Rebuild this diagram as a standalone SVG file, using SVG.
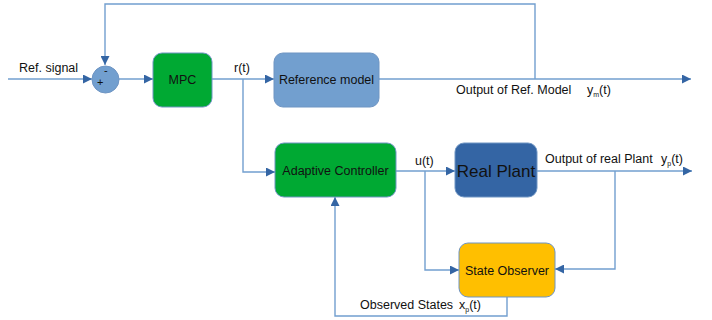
<svg xmlns="http://www.w3.org/2000/svg" width="712" height="320" viewBox="0 0 712 320">
<defs>
<marker id="ah" viewBox="0 0 10 10" refX="10" refY="5" markerWidth="12" markerHeight="9" markerUnits="userSpaceOnUse" orient="auto">
<path d="M0,0 L10,5 L0,10 Z" fill="#3465a4"/>
</marker>
<style>
.ln{fill:none;stroke:#729fcf;stroke-width:1.4;}
.ar{marker-end:url(#ah);}
text{font-family:"Liberation Sans",Arial,sans-serif;font-size:12.5px;fill:#111;}
.sub{font-size:7px;}
.big{font-size:17px;}
.sm{font-size:11px;}
.bx{stroke:#6f95c3;stroke-width:1;}
</style>
</defs>
<g id="connectors">
<path class="ln ar" d="M8,79 H92"/>
<path class="ln ar" d="M535,79 V4 H105 V65"/>
<path class="ln ar" d="M119,79 H153"/>
<path class="ln ar" d="M212,79 H274"/>
<path class="ln ar" d="M243,79 V172 H275"/>
<path class="ln ar" d="M379,79 H691"/>
<path class="ln ar" d="M396,171 H455"/>
<path class="ln ar" d="M425,171 V270 H459"/>
<path class="ln ar" d="M537,171 H692"/>
<path class="ln ar" d="M615,171 V269 H555"/>
<path class="ln ar" d="M507,297 V316 H335 V197"/>
<text x="19" y="72">Ref. signal</text>
<text x="234" y="72">r(t)</text>
<text x="456" y="94">Output of Ref. Model</text>
<text x="587" y="94">y<tspan class="sub" dy="3">m</tspan><tspan dy="-3">(t)</tspan></text>
<text x="415" y="165">u(t)</text>
<text x="545" y="163">Output of real Plant</text>
<text x="661" y="163">y<tspan class="sub" dy="3">p</tspan><tspan dy="-3">(t)</tspan></text>
<text x="360" y="309">Observed States</text>
<text x="459" y="309">x<tspan class="sub" dy="3">p</tspan><tspan dy="-3">(t)</tspan></text>
</g>
<g id="sum">
<circle cx="105.5" cy="79.5" r="13.5" fill="#729fcf" class="bx"/>
<text class="sm" x="104" y="74">-</text>
<text class="sm" x="97" y="86">+</text>
</g>
<g id="mpc">
<rect x="153" y="53" width="59" height="54" rx="9" fill="#00a933" class="bx"/>
<text x="182.5" y="84" text-anchor="middle">MPC</text>
</g>
<g id="reference-model">
<rect x="274" y="53" width="105" height="54" rx="9" fill="#729fcf" class="bx"/>
<text x="326.5" y="84" text-anchor="middle">Reference model</text>
</g>
<g id="adaptive-controller">
<rect x="275" y="143" width="121" height="54" rx="9" fill="#00a933" class="bx"/>
<text x="335.5" y="175" text-anchor="middle">Adaptive Controller</text>
</g>
<g id="real-plant">
<rect x="455" y="143" width="82" height="54" rx="9" fill="#3465a4" class="bx"/>
<text class="big" x="496" y="177" text-anchor="middle">Real Plant</text>
</g>
<g id="state-observer">
<rect x="459" y="243" width="96" height="54" rx="9" fill="#ffbf00" class="bx"/>
<text x="507" y="275" text-anchor="middle">State Observer</text>
</g>
</svg>
